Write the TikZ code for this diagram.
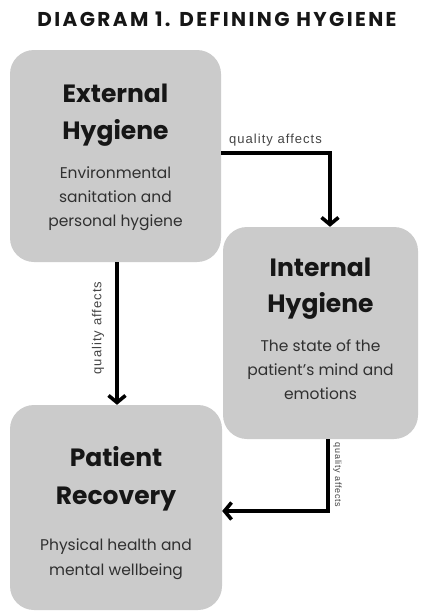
\documentclass[tikz,border=0pt]{standalone}
\usepackage{fontspec}
\setmainfont{Poppins}
\newfontfamily\titlefont[LetterSpace=12]{Poppins}
\newfontfamily\labelfont[LetterSpace=8]{Liberation Sans}
\usetikzlibrary{arrows.meta}
\definecolor{boxgray}{HTML}{CBCBCB}
\definecolor{headtxt}{HTML}{161616}
\definecolor{bodytxt}{HTML}{303030}
\definecolor{labtxt}{HTML}{444444}
\begin{document}
\begin{tikzpicture}[x=1pt,y=-1pt,
  card/.style={fill=boxgray, draw=none, rounded corners=24pt, inner sep=0pt},
  headline/.style={font=\fontsize{25}{28}\selectfont\bfseries, text=headtxt, inner sep=0pt, anchor=base},
  bodyline/.style={font=\fontsize{15.5}{18}\selectfont, text=bodytxt, inner sep=0pt, anchor=base},
  conn/.style={line width=3.6pt, -{Straight Barb[length=7pt,width=17pt,line width=3.6pt]}},
  lab/.style={font=\labelfont\fontsize{13}{14}\selectfont, text=labtxt, inner sep=0pt},
  smalllab/.style={font=\labelfont\fontsize{9}{10}\selectfont, text=labtxt, inner sep=0pt}
]
\useasboundingbox (0,0) rectangle (421,613);
\fill[white] (0,0) rectangle (421,613);

\node[font=\titlefont\fontsize{20}{22}\selectfont\bfseries, text=headtxt, inner sep=0pt, anchor=base] (title) at (217,27) {DIAGRAM 1. DEFINING HYGIENE};

% boxes
\node[card, minimum width=211pt, minimum height=212pt] (b1) at (115.5,156) {};
\node[card, minimum width=195pt, minimum height=212pt] (b2) at (320.5,333) {};
\node[card, minimum width=212pt, minimum height=205pt] (b3) at (116,507.5) {};

% box 1 text
\node[headline] (t1a) at (115.5,102) {External};
\node[headline] (t1b) at (115.5,139) {Hygiene};
\node[bodyline] (t1c) at (115.5,178) {Environmental};
\node[bodyline] (t1d) at (115.5,202) {sanitation and};
\node[bodyline] (t1e) at (115.5,226) {personal hygiene};

% box 2 text
\node[headline] (t2a) at (320.5,276) {Internal};
\node[headline] (t2b) at (320.5,312) {Hygiene};
\node[bodyline] (t2c) at (320.5,351) {The state of the};
\node[bodyline] (t2d) at (320.5,375) {patient's mind and};
\node[bodyline] (t2e) at (320.5,399) {emotions};

% box 3 text
\node[headline] (t3a) at (116,466) {Patient};
\node[headline] (t3b) at (116,504) {Recovery};
\node[bodyline] (t3c) at (116,550) {Physical health and};
\node[bodyline] (t3d) at (116,575) {mental wellbeing};

% connectors
\draw[conn] ([yshift=3pt]b1.east) -| ([xshift=9.5pt]b2.north);
\draw[conn] ([xshift=1.5pt]b1.south) -- ([xshift=1pt]b3.north);
\draw[conn] ([xshift=7.5pt]b2.south) |- ([yshift=-3.5pt]b3.east);

% labels
\node[lab, anchor=base] (l1) at (275.5,143) {quality affects};
\node[lab, rotate=90] (l2) at (98,328) {quality affects};
\node[smalllab, rotate=-90] (l3) at (337.5,475) {quality affects};
\end{tikzpicture}
\end{document}
